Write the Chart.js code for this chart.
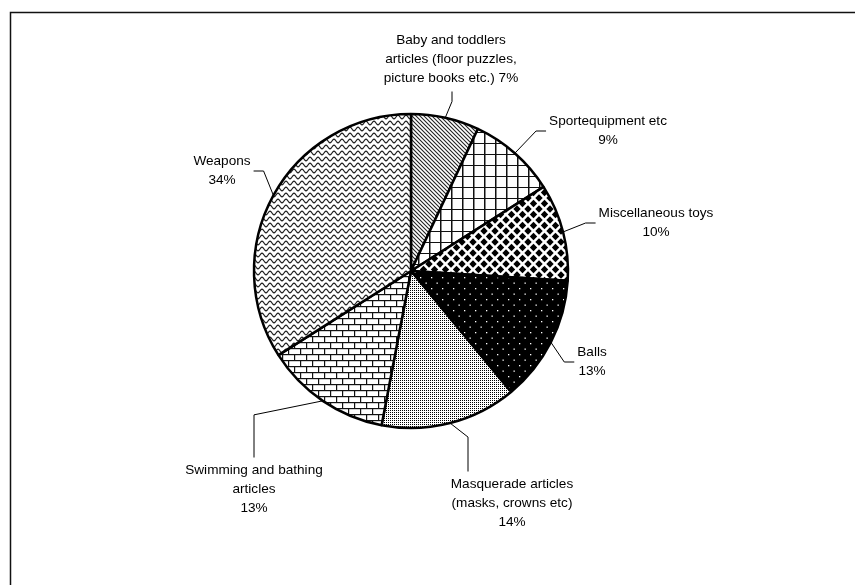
<!DOCTYPE html>
<html>
<head>
<meta charset="utf-8">
<script src="https://cdn.jsdelivr.net/npm/chart.js@4.4.1/dist/chart.umd.min.js"></script>
<style>
  body { margin: 0; background: #fff; }
  canvas { display: block; }
</style>
</head>
<body>
<canvas id="myChart" width="855" height="585"></canvas>
<script>
// data
const categories = [
  "Baby and toddlers articles (floor puzzles, picture books etc.)",
  "Sportequipment etc",
  "Miscellaneous toys",
  "Balls",
  "Masquerade articles (masks, crowns etc)",
  "Swimming and bathing articles",
  "Weapons"
];
const shares = [7, 9, 10, 13, 14, 13, 34];

// how each label is wrapped and where it sits (relative to the pie centre)
const labelLayout = [
  { lines: ["Baby and toddlers", "articles (floor puzzles,", "picture books etc.)"], pctInline: true, dx: 40, dy: -212, side: "above" },
  { lines: ["Sportequipment etc"], dx: 197, dy: -140, side: "left" },
  { lines: ["Miscellaneous toys"], dx: 245, dy: -48, side: "left" },
  { lines: ["Balls"], dx: 181, dy: 91, side: "left" },
  { lines: ["Masquerade articles", "(masks, crowns etc)"], dx: 101, dy: 232, side: "below", lx: -44 },
  { lines: ["Swimming and bathing", "articles"], dx: -157, dy: 218, side: "below", lx: 0 },
  { lines: ["Weapons"], dx: -189, dy: -100, side: "right" }
];

const FONT = '13.6px "Liberation Sans", Arial, sans-serif';
const LINE_H = 19;

const ctx = document.getElementById('myChart');
const c2d = ctx.getContext('2d');

function makePattern(w, h, bg, draw) {
  const c = document.createElement('canvas');
  c.width = w; c.height = h;
  const g = c.getContext('2d');
  g.fillStyle = bg;
  g.fillRect(0, 0, w, h);
  draw(g, w, h);
  return c2d.createPattern(c, 'repeat');
}

// diagonal hatch
const hatch = makePattern(4, 4, '#fff', (g) => {
  g.strokeStyle = '#222';
  g.lineWidth = 1.1;
  g.beginPath();
  g.moveTo(-1, -1); g.lineTo(5, 5);
  g.moveTo(-1, 3); g.lineTo(1, 5);
  g.moveTo(3, -1); g.lineTo(5, 1);
  g.stroke();
});
// square grid
const grid = makePattern(11, 11, '#fff', (g) => {
  g.fillStyle = '#111';
  g.fillRect(0, 0, 11, 1);
  g.fillRect(0, 0, 1.5, 11);
});
// black diamonds
const diamonds = makePattern(11, 11, '#fff', (g) => {
  g.fillStyle = '#000';
  const d = (cx, cy, r) => {
    g.beginPath();
    g.moveTo(cx, cy - r); g.lineTo(cx + r, cy); g.lineTo(cx, cy + r); g.lineTo(cx - r, cy);
    g.closePath(); g.fill();
  };
  d(5.5, 5.5, 3.7);
  [[0, 0], [11, 0], [0, 11], [11, 11]].forEach(([x, y]) => d(x, y, 3.7));
});
// white dots on black
const dots = makePattern(11, 11, '#000', (g) => {
  g.fillStyle = '#fff';
  g.fillRect(2, 2, 1.3, 1.3);
  g.fillRect(7.5, 7.5, 1.3, 1.3);
});
// fine stipple
const stipple = makePattern(2, 2, '#fff', (g) => {
  g.fillStyle = '#000';
  g.fillRect(0, 0, 1, 1);
});
// bricks
const bricks = makePattern(12, 12, '#fff', (g) => {
  g.fillStyle = '#111';
  g.fillRect(0, 0, 12, 1.2);
  g.fillRect(0, 6, 12, 1.2);
  g.fillRect(0, 0, 1.2, 6);
  g.fillRect(6, 6, 1.2, 6);
});
// waves
const waves = makePattern(8, 6, '#fff', (g, w) => {
  g.strokeStyle = '#222';
  g.lineWidth = 1.2;
  g.beginPath();
  for (let x = -1; x <= w + 1; x += 0.5) {
    const y = 3 + 1.8 * Math.sin(2 * Math.PI * x / w);
    if (x === -1) g.moveTo(x, y); else g.lineTo(x, y);
  }
  g.stroke();
});

const fills = [hatch, grid, diamonds, dots, stipple, bricks, waves];

const framePlugin = {
  id: 'frame',
  beforeDraw(chart) {
    const g = chart.ctx;
    g.save();
    g.fillStyle = '#fff';
    g.fillRect(0, 0, chart.width, chart.height);
    g.strokeStyle = '#111';
    g.lineWidth = 1.5;
    g.strokeRect(10.5, 12.5, chart.width + 20, chart.height + 20);
    g.restore();
  }
};

const leaderPlugin = {
  id: 'leaders',
  afterDatasetsDraw(chart) {
    const g = chart.ctx;
    const meta = chart.getDatasetMeta(0);
    g.save();
    g.font = FONT;
    g.fillStyle = '#000';
    g.textAlign = 'center';
    g.textBaseline = 'middle';
    g.strokeStyle = '#000';
    g.lineWidth = 1;
    meta.data.forEach((arc, i) => {
      const p = arc.getProps(['x', 'y', 'startAngle', 'endAngle', 'outerRadius'], true);
      const mid = (p.startAngle + p.endAngle) / 2;
      const ax = p.x + Math.cos(mid) * p.outerRadius;
      const ay = p.y + Math.sin(mid) * p.outerRadius;
      const L = labelLayout[i];
      const lines = L.lines.slice();
      const pct = shares[i] + '%';
      if (L.pctInline) lines[lines.length - 1] += ' ' + pct; else lines.push(pct);
      const cx = p.x + L.dx, cy = p.y + L.dy;
      const w = Math.max(...lines.map(s => g.measureText(s).width));
      const h = lines.length * LINE_H;
      const top = cy - h / 2;
      lines.forEach((s, k) => g.fillText(s, cx, top + LINE_H * (k + 0.5)));

      let p1, p2;
      if (L.side === 'left') {
        p1 = [cx - w / 2 - 3, cy]; p2 = [cx - w / 2 - 13, cy];
      } else if (L.side === 'right') {
        p1 = [cx + w / 2 + 3, cy]; p2 = [cx + w / 2 + 13, cy];
      } else if (L.side === 'above') {
        p1 = [cx + 1, top + h + 4]; p2 = [cx + 1, top + h + 14];
      } else {
        p1 = [cx + L.lx, top - 3]; p2 = [cx + L.lx, ay + 14];
      }
      g.beginPath();
      g.moveTo(p1[0], p1[1]);
      g.lineTo(p2[0], p2[1]);
      g.lineTo(ax, ay);
      g.stroke();
    });
    g.restore();
  }
};

new Chart(ctx, {
  type: 'pie',
  data: {
    labels: categories,
    datasets: [{
      data: shares,
      backgroundColor: fills,
      borderColor: '#000',
      borderWidth: 2.5,
      radius: 157
    }]
  },
  options: {
    responsive: false,
    animation: false,
    layout: { padding: { left: 0, right: 33, top: 0, bottom: 43 } },
    plugins: {
      legend: { display: false },
      tooltip: { enabled: false }
    }
  },
  plugins: [framePlugin, leaderPlugin]
});
</script>
</body>
</html>
